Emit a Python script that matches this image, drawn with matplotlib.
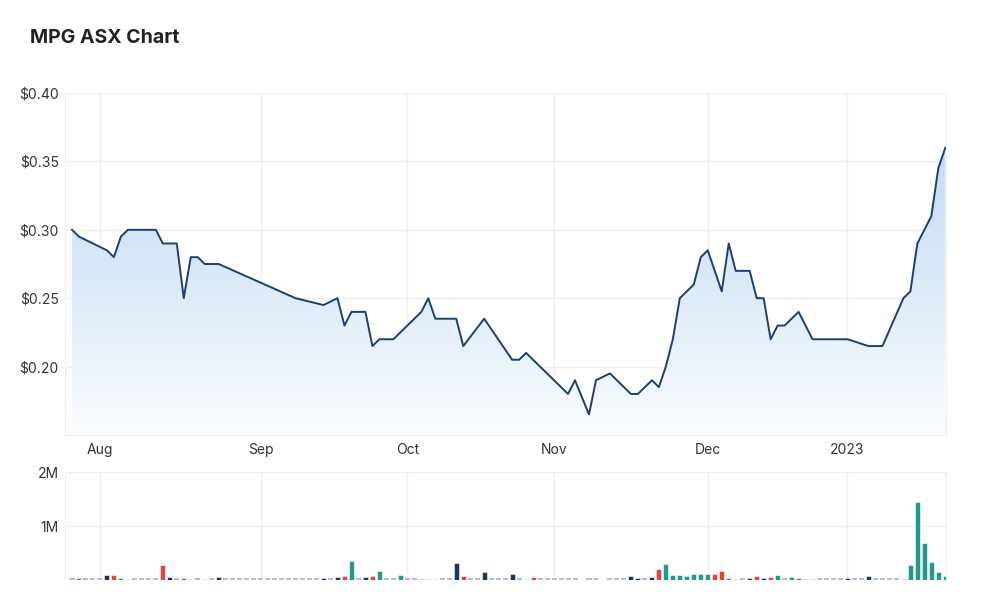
import numpy as np
import pandas as pd
import matplotlib
matplotlib.use('Agg')
import matplotlib.pyplot as plt
from matplotlib.colors import LinearSegmentedColormap

plt.rcParams['font.family'] = ['Inter', 'DejaVu Sans']

# trading days (ASX), Jul 26 2022 - Jan 23 2023
holidays = ['2022-09-22', '2022-12-26', '2022-12-27', '2023-01-02']
dates = pd.bdate_range('2022-07-26', '2023-01-23')
dates = dates[~dates.isin(pd.to_datetime(holidays))]

# closing price, None = no trade that day
price = [
    0.300, 0.295, None, None, None, 0.285, 0.280, 0.295, 0.300, 0.300,
    0.300, 0.300, 0.300, 0.290, 0.290, 0.290, 0.250, 0.280, 0.280, 0.275,
    0.275, 0.275, None, None, None, None, None, None, None, None,
    None, None, 0.250, None, None, None, 0.245, None, 0.250, 0.230,
    0.240, 0.240, 0.240, 0.215, 0.220, 0.220, 0.220, None, None, None,
    0.240, 0.250, 0.235, 0.235, 0.235, 0.235, 0.215, None, None, 0.235,
    None, None, None, 0.205, 0.205, 0.210, None, None, None, None,
    None, 0.180, 0.190, None, 0.165, 0.190, None, 0.195, None, None,
    0.180, 0.180, None, 0.190, 0.185, 0.200, 0.220, 0.250, None, 0.260,
    0.280, 0.285, None, 0.255, 0.290, 0.270, 0.270, 0.270, 0.250, 0.250,
    0.220, 0.230, 0.230, None, 0.240, None, 0.220, 0.220, 0.220, 0.220,
    0.220, 0.220, None, None, 0.215, 0.215, 0.215, None, None, 0.250,
    0.255, 0.290, None, 0.310, 0.345, 0.360,
]

# volume in millions of shares
volume = [
    0, 0.03, 0, 0, 0, 0.09, 0.09, 0.03, 0.01, 0,
    0, 0, 0, 0.28, 0.05, 0, 0.03, 0.01, 0, 0.01,
    0, 0.06, 0, 0, 0, 0, 0, 0, 0, 0,
    0, 0, 0, 0, 0, 0, 0.03, 0, 0.05, 0.07,
    0.35, 0, 0.05, 0.07, 0.17, 0, 0, 0.10, 0, 0,
    0.02, 0.01, 0.02, 0, 0, 0.31, 0.07, 0, 0, 0.15,
    0, 0, 0, 0.12, 0, 0.01, 0.05, 0, 0, 0,
    0, 0, 0.10, 0, 0, 0.085, 0, 0, 0, 0,
    0.08, 0.04, 0, 0.05, 0.20, 0.30, 0.10, 0.10, 0.07, 0.12,
    0.12, 0.12, 0.12, 0.17, 0.04, 0.02, 0, 0.04, 0.08, 0.04,
    0.06, 0.10, 0, 0.06, 0.04, 0.02, 0.02, 0, 0, 0,
    0, 0.04, 0, 0, 0.08, 0, 0, 0, 0, 0.02,
    0.28, 1.44, 0.68, 0.34, 0.14, 0.08,
]

# bar colour code: n = unchanged, r = down, t = up, z = no trades
vol_kind = (
    'zrzzznrttz' 'zzzrnzrtzr' 'znzzzzzzzz' 'zzzzzznznr'
    'tznrtzztzz' 'ntrzznrzzn' 'zzznztrzzz' 'zzztzztzzz'
    'nnznrttttt' 'ttrrtrznrn' 'rtzttrrzzz' 'znzznzzzzn'
    'tttttt'
)

month_labels = ['Aug', 'Sep', 'Oct', 'Nov', 'Dec', '2023']

assert len(dates) == len(price) == len(volume) == len(vol_kind)

x = np.arange(len(dates))
p = np.array([np.nan if v is None else v for v in price])
ok = ~np.isnan(p)
xv, pv = x[ok], p[ok]

# first trading day of each month
first = pd.Series(x, index=dates).groupby([dates.year, dates.month]).first().values[1:]

grid_c = '#efefef'
text_c = '#333333'

fig = plt.figure(figsize=(10, 6.06), dpi=100)
ax = fig.add_axes([0.065, 0.2822, 0.881, 0.5643])
axv = fig.add_axes([0.065, 0.0429, 0.881, 0.1782])

x0, x1 = -1.0, 125.1

# price panel
ax.set_xlim(x0, x1)
ax.set_ylim(0.15, 0.40)
cmap = LinearSegmentedColormap.from_list('fill', ['#fbfdff', '#b6d4f0'])
grad = np.linspace(0, 1, 256).reshape(-1, 1)
im = ax.imshow(grad, aspect='auto', cmap=cmap, origin='lower',
               extent=[x0, x1, 0.15, 0.40], zorder=1)
poly = ax.fill_between(xv, pv, 0.15, color='none', lw=0)
im.set_clip_path(poly.get_paths()[0], transform=ax.transData)
ax.plot(xv, pv, color='#1c3f72', lw=1.4, zorder=3)

ax.set_yticks([0.20, 0.25, 0.30, 0.35, 0.40])
ax.set_yticklabels(['$0.20', '$0.25', '$0.30', '$0.35', '$0.40'])
ax.set_xticks(first)
ax.set_xticklabels(month_labels)
ax.grid(True, color=grid_c, lw=1, zorder=0)
ax.set_axisbelow(True)

# volume panel
axv.set_xlim(x0, x1)
axv.set_ylim(0, 2.0)
colors = {'n': '#17346a', 'r': '#e8413e', 't': '#23998a'}
traded = [i for i, k in enumerate(vol_kind) if k != 'z']
idle = [i for i, k in enumerate(vol_kind) if k == 'z']
axv.bar(x[traded], [volume[i] for i in traded], width=0.72,
        color=[colors[vol_kind[i]] for i in traded],
        edgecolor='#ffffff', linewidth=0.4, zorder=3)
axv.bar(x[idle], 0.035, width=0.72, color='#b5bdcc', linewidth=0, zorder=3)
axv.set_yticks([1.0, 2.0])
axv.set_yticklabels(['1M', '2M'])
axv.set_xticks(first)
axv.set_xticklabels([])
axv.grid(True, color=grid_c, lw=1, zorder=0)
axv.set_axisbelow(True)

for a in (ax, axv):
    for s in a.spines.values():
        s.set_color(grid_c)
    a.tick_params(length=0, colors=text_c, labelsize=10)
    a.tick_params(axis='y', pad=4.5)
    a.tick_params(axis='x', pad=6)
axv.spines['bottom'].set_visible(False)
axv.spines['top'].set_visible(False)

fig.text(0.03, 1 - 38 / 606, 'MPG ASX Chart', fontsize=14, fontweight='bold',
         color='#222222', va='center', ha='left')

plt.savefig('out.png', dpi=100)
